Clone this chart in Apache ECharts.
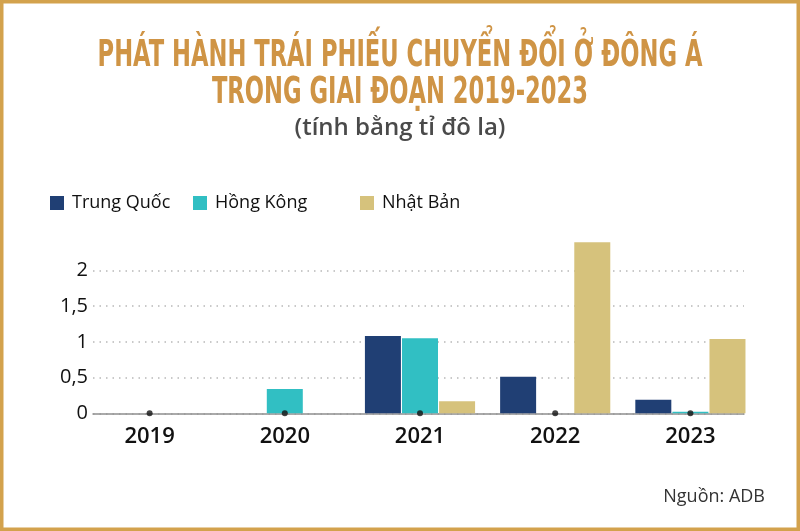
<!DOCTYPE html>
<html>
<head>
<meta charset="utf-8">
<script src="https://cdn.jsdelivr.net/npm/echarts@6/dist/echarts.min.js"></script>
<style>
html, body { margin: 0; padding: 0; background: #fff; }
#chart { width: 800px; height: 531px; }
</style>
</head>
<body>
<div id="chart"></div>
<script>
// years on the x axis
var years = ['2019', '2020', '2021', '2022', '2023'];
// issuance, billion USD
var trungQuoc = [0, 0, 1.08, 0.51, 0.19];
var hongKong = [0, 0.34, 1.05, 0, 0.02];
var nhatBan = [0, 0, 0.17, 2.39, 1.04];

var textFont = '"Open Sans", "Noto Sans", sans-serif';
var titleFont = '"Liberation Sans Narrow", "DejaVu Sans Condensed", "Liberation Sans", sans-serif';

function fmt(v) {
    return String(v).replace('.', ',');
}

var myChart = echarts.init(document.getElementById('chart'));
var option = {
    backgroundColor: '#fff',
    animation: false,
    graphic: [
        {
            type: 'rect',
            shape: {x: 1.75, y: 1.75, width: 796.5, height: 527.5},
            style: {fill: 'none', stroke: '#d3a24d', lineWidth: 3.5}
        },
        {
            type: 'text',
            x: 400, y: 56, scaleX: 0.68,
            style: {text: 'PHÁT HÀNH TRÁI PHIẾU CHUYỂN ĐỔI Ở ĐÔNG Á', font: 'bold 37px ' + titleFont,
                fill: '#cf9445', textAlign: 'center', textVerticalAlign: 'middle'}
        },
        {
            type: 'text',
            x: 400, y: 93, scaleX: 0.68,
            style: {text: 'TRONG GIAI ĐOẠN 2019-2023', font: 'bold 37px ' + titleFont,
                fill: '#cf9445', textAlign: 'center', textVerticalAlign: 'middle'}
        },
        {
            type: 'text',
            x: 400, y: 128,
            style: {text: '(tính bằng tỉ đô la)', font: '600 24px ' + textFont,
                fill: '#4a4a4a', textAlign: 'center', textVerticalAlign: 'middle'}
        },
        {
            type: 'text',
            x: 765, y: 497,
            style: {text: 'Nguồn: ADB', font: '500 18px ' + textFont,
                fill: '#333', textAlign: 'right', textVerticalAlign: 'middle'}
        }
    ],
    legend: [
        {data: ['Trung Quốc'], left: 50, top: 194},
        {data: ['Hồng Kông'], left: 193, top: 194},
        {data: ['Nhật Bản'], left: 360, top: 194}
    ].map(function (l) {
        l.icon = 'rect';
        l.padding = 0;
        l.itemWidth = 14;
        l.itemHeight = 14;
        l.textStyle = {fontFamily: textFont, fontSize: 18, color: '#111', padding: [0, 0, 0, 3]};
        return l;
    }),
    grid: [
        // bars
        {left: 82, right: 42, top: 234.5, bottom: 117.7},
        // guide lines and axis
        {left: 93, right: 56, top: 270.3, bottom: 117.7}
    ],
    xAxis: [
        {
            type: 'category',
            gridIndex: 0,
            data: years,
            axisLine: {show: false},
            axisTick: {show: false},
            axisLabel: {fontFamily: textFont, fontSize: 22, fontWeight: 600, color: '#111', margin: 12}
        },
        {
            type: 'value',
            gridIndex: 1,
            min: 0,
            max: 1,
            axisLine: {lineStyle: {color: '#8f8f8f', width: 1.5}},
            axisTick: {show: false},
            axisLabel: {show: false},
            splitLine: {show: false}
        }
    ],
    yAxis: [
        {
            type: 'value',
            gridIndex: 0,
            min: 0,
            max: 2.5,
            interval: 0.5,
            show: false
        },
        {
            type: 'value',
            gridIndex: 1,
            min: 0,
            max: 2,
            interval: 0.5,
            axisLine: {show: false},
            axisTick: {show: false},
            splitLine: {lineStyle: {type: [1.5, 5], color: '#b8b8b8', width: 1.5}},
            axisLabel: {fontFamily: textFont, fontSize: 20, fontWeight: 500, color: '#111', margin: 5, formatter: fmt}
        }
    ],
    series: [
        {
            name: 'Trung Quốc',
            type: 'bar',
            data: trungQuoc,
            barWidth: 36,
            barGap: '3%',
            itemStyle: {color: '#203f74'},
            z: 3
        },
        {
            name: 'Hồng Kông',
            type: 'bar',
            data: hongKong,
            barWidth: 36,
            barGap: '3%',
            itemStyle: {color: '#31bfc3'},
            z: 3
        },
        {
            name: 'Nhật Bản',
            type: 'bar',
            data: nhatBan,
            barWidth: 36,
            barGap: '3%',
            itemStyle: {color: '#d6c27c'},
            z: 3
        },
        {
            name: 'dots',
            type: 'scatter',
            data: years.map(function () { return 0; }),
            symbolSize: 6,
            itemStyle: {color: '#111'},
            z: 10
        }
    ]
};
myChart.setOption(option);
</script>
</body>
</html>
